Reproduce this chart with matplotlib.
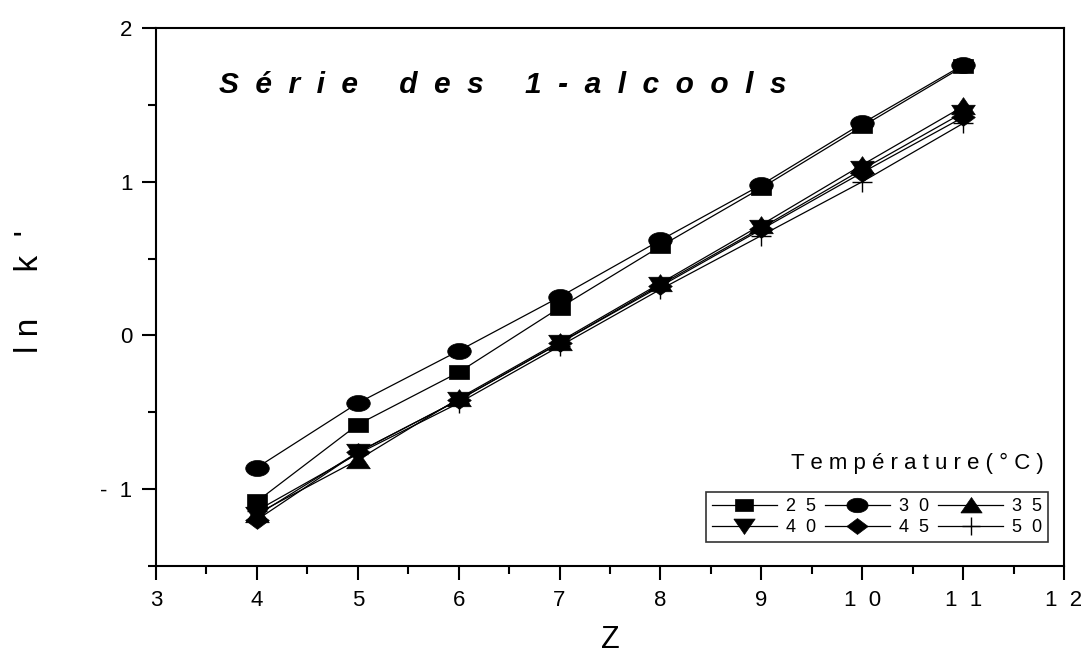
import numpy as np
import matplotlib
matplotlib.use("Agg")
import matplotlib.pyplot as plt
from matplotlib.ticker import MultipleLocator, FixedLocator

plt.rcParams['font.family'] = ['Liberation Sans', 'DejaVu Sans']

# nombre d'atomes de carbone
z = [4, 5, 6, 7, 8, 9, 10, 11]

# ln k' pour chaque temperature (°C)
lnk_25 = [-1.08, -0.58, -0.24, 0.18, 0.58, 0.96, 1.36, 1.75]
lnk_30 = [-0.86, -0.44, -0.10, 0.25, 0.62, 0.98, 1.38, 1.76]
lnk_35 = [-1.16, -0.81, -0.41, -0.04, 0.34, 0.72, 1.11, 1.49]
lnk_40 = [-1.17, -0.76, -0.42, -0.05, 0.33, 0.70, 1.08, 1.45]
lnk_45 = [-1.20, -0.76, -0.42, -0.05, 0.32, 0.69, 1.06, 1.42]
lnk_50 = [-1.14, -0.77, -0.44, -0.07, 0.30, 0.65, 1.00, 1.38]

series_labels = ["2  5", "3  0", "3  5", "4  0", "4  5", "5  0"]

x_ticks = [3, 4, 5, 6, 7, 8, 9, 10, 11, 12]
x_tick_labels = ["3", "4", "5", "6", "7", "8", "9", "1  0", "1  1", "1  2"]
y_ticks = [-1, 0, 1, 2]
y_tick_labels = ["-  1", "0", "1", "2"]

# marqueurs un peu etires horizontalement comme dans l'original
sq = [(-1, -0.65), (1, -0.65), (1, 0.65), (-1, 0.65), (-1, -0.65)]
t = np.linspace(0, 2 * np.pi, 40)
ell = list(zip(np.cos(t), 0.68 * np.sin(t)))
tri_up = [(-1, -0.7), (1, -0.7), (0, 0.75), (-1, -0.7)]
tri_dn = [(-1, 0.7), (1, 0.7), (0, -0.75), (-1, 0.7)]
diam = [(-1, 0), (0, -0.75), (1, 0), (0, 0.75), (-1, 0)]

fig = plt.figure(figsize=(10.81, 6.56), dpi=100)
ax = fig.add_axes([0.1443, 0.1372, 0.8400, 0.8200])

all_series = [lnk_25, lnk_30, lnk_35, lnk_40, lnk_45, lnk_50]
markers = [sq, ell, tri_up, tri_dn, diam, '+']
sizes = [15, 17, 17, 17, 17, 14]
handles = []
for vals, m, ms, lab in zip(all_series, markers, sizes, series_labels):
    h, = ax.plot(z, vals, color='black', lw=0.9, marker=m, markersize=ms,
                 markerfacecolor='black', markeredgecolor='black',
                 markeredgewidth=1.0 if m == '+' else 0.5, label=lab)
    handles.append(h)

ax.set_xlim(3, 12)
ax.set_ylim(-1.5, 2)
ax.xaxis.set_major_locator(FixedLocator(x_ticks))
ax.set_xticklabels(x_tick_labels)
ax.yaxis.set_major_locator(FixedLocator(y_ticks))
ax.set_yticklabels(y_tick_labels)
ax.xaxis.set_minor_locator(MultipleLocator(0.5))
ax.yaxis.set_minor_locator(FixedLocator([-1.5, -0.5, 0.5, 1.5]))

ax.tick_params(which='major', direction='out', length=10, width=1.5,
               labelsize=16, pad=7, top=False, right=False)
ax.tick_params(which='minor', direction='out', length=6, width=1.5,
               top=False, right=False)
for s in ax.spines.values():
    s.set_linewidth(1.5)

ax.set_xlabel("Z", fontsize=22)
ax.xaxis.set_label_coords(0.5, -0.11)
ax.set_ylabel("l n     k  '", fontsize=24)
ax.yaxis.set_label_coords(-0.122, 0.51)

ax.text(0.069, 0.895, "S  é  r  i  e     d  e  s     1  -  a  l  c  o  o  l  s",
        transform=ax.transAxes, fontsize=21.5, fontweight='bold',
        fontstyle='italic', ha='left', va='center')

ax.text(0.838, 0.19, "T e m p é r a t u r e ( ° C )",
        transform=ax.transAxes, fontsize=16, ha='center', va='center')

order = [0, 3, 1, 4, 2, 5]
leg = ax.legend([handles[i] for i in order], [series_labels[i] for i in order],
                ncol=3, loc='lower right', bbox_to_anchor=(0.982, 0.045),
                borderaxespad=0, fontsize=13, frameon=True, fancybox=False,
                handlelength=3.6, handletextpad=0.5, columnspacing=0.5,
                labelspacing=0.25, borderpad=0.3, markerscale=0.9)
leg.get_frame().set_edgecolor('black')
leg.get_frame().set_linewidth(1.2)

fig.savefig("out.png", dpi=100)
